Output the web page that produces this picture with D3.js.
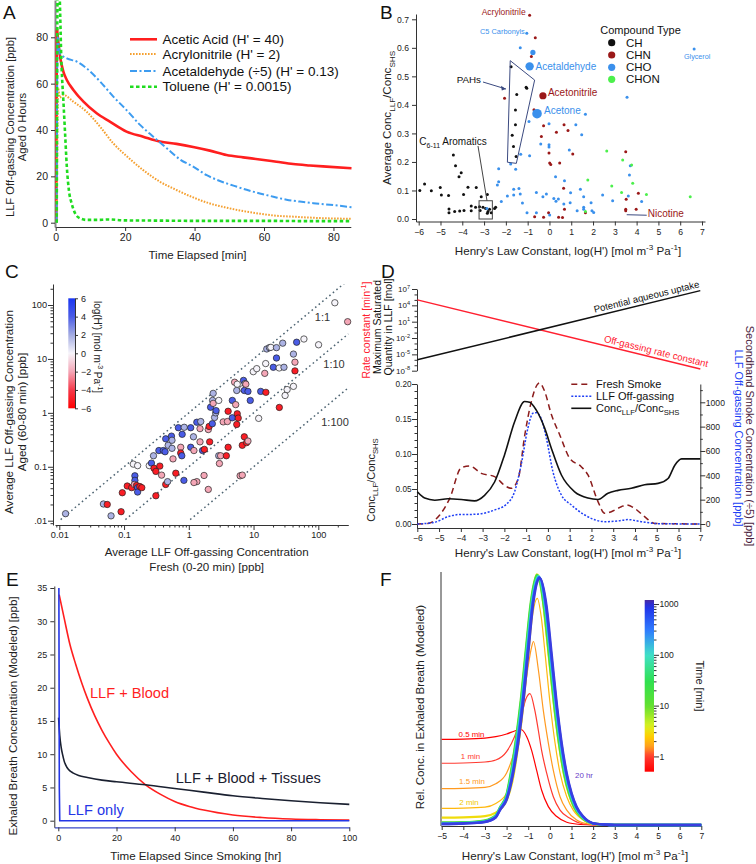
<!DOCTYPE html>
<html>
<head>
<meta charset="utf-8">
<script src="https://cdn.jsdelivr.net/npm/d3@7/dist/d3.min.js"></script>
<style>
  html,body{margin:0;padding:0;background:#fff;}
  svg{display:block;font-family:"Liberation Sans",Arial,Helvetica,sans-serif;}
</style>
</head>
<body>
<svg id="fig" width="756" height="864"></svg>
<script>
// ======================= DATA =======================
// ---- Panel A: LLF off-gassing (time in min, concentration in ppb)
const aAceticT = [0.2,0.35,0.5,1.25,2.2,3.2,5.1,8,11.8,15.6,20.4,25.2,30,34.8,39.6,44.4,49.2,54,58.8,63.6,68.4,73.2,78,85.2];
const aAcetic  = [0,84,81.7,71.7,65.2,61.6,57.3,52.2,47.2,43.6,39.3,37.1,35.0,34.0,32.7,31.1,29.2,28.2,27.3,26.3,25.3,24.7,24.2,23.5];
const aAcrylT  = [0.3,0.7,1.2,2.2,5.1,8.9,12.8,16.6,20.4,25.2,30,34.8,39.6,44.4,49.2,54,58.8,63.6,68.4,73.2,78,85.2];
const aAcryl   = [0,58,54,55.1,52.2,47.9,41.4,34.2,28.8,22.7,17.7,14.1,10.9,8.3,6.5,5.0,3.9,3.0,2.6,2.2,1.9,1.7];
const aAcetalT = [0.25,0.55,1.25,3.2,6.1,8.9,12.8,16.6,20.4,24.3,28.1,32,35.8,39.6,43.5,47.3,51.2,55,58.8,62.7,66.5,70.3,74.2,80,85.2];
const aAcetal  = [0,80,73,70.9,69.5,66.6,60.9,54.4,48.6,42.2,37.1,32.1,27.3,24.2,20.5,18,16,14.2,12.6,11.2,9.9,9.1,8.4,7.6,6.7];
const aTolT    = [0.3,0.6,1.0,1.7,2.2,2.7,3.2,3.8,4.6,5.6,7,8.9,12,15,20,30,40,50,60,70,85];
const aTol     = [0,115,105,67,53,38.6,24.2,14,8.3,4,1.9,1.2,1.2,1.4,1.0,0.9,0.8,0.8,0.8,0.7,0.7];
const aNames   = ["Acetic Acid (H' = 40)","Acrylonitrile (H' = 2)","Acetaldehyde (÷5) (H' = 0.13)","Toluene (H' = 0.0015)"];
const aXTicks  = [0,20,40,60,80];
const aYTicks  = [0,20,40,60,80];

// ---- Panel B: log(H') vs Average ConcLLF/ConcSHS
const bCH = [[-5.95,0.100],[-5.73,0.123],[-5.42,0.099],[-5.01,0.110],[-4.96,0.084],[-4.63,0.082],[-4.41,0.224],[-4.31,0.187],
  [-4.15,0.148],[-4.05,0.162],[-3.94,0.086],[-3.74,0.111],[-3.36,0.110],[-3.13,0.078],[-2.85,0.086],[-4.61,0.035],[-4.61,0.022],
  [-4.35,0.026],[-4.12,0.028],[-3.92,0.030],[-3.59,0.029],[-3.59,0.046],[-3.39,0.041],[-3.21,0.043],[-3.05,0.041],[-2.93,0.037],
  [-2.82,0.026],[-2.75,0.034],[-2.67,0.022],[-2.52,0.037],[-2.47,0.041],[-2.85,0.020],[-3.18,0.030],
  [-1.76,0.534],[-1.07,0.462],[-1.04,0.458],[-1.50,0.436],[-1.56,0.382],[-1.56,0.330],[-1.71,0.294],[-1.65,0.254],[-1.53,0.219]];
const bCHN = [[-0.91,0.714],[-0.65,0.635],[-0.83,0.570],[-2.06,0.423],[-0.71,0.383],[-0.27,0.327],[-0.37,0.289],[0.32,0.304],
  [-0.02,0.231],[0.01,0.196],[0.06,0.191],[0.47,0.196],[0.67,0.330],[0.85,0.310],[1.07,0.228],[0.65,0.108],[0.69,0.034],
  [-0.27,0.006],[-0.68,0.008],[-0.04,0.022],[0.42,0.006],[0.6,0.005],[1.65,0.022],[3.5,0.236],[3.52,0.069],[3.5,0.034],
  [3.5,0.029],[3.98,0.034],[4.08,0.090]];
const bCHO = [[-1.04,0.651],[-1.34,0.600],[-0.94,0.342],[-0.02,0.334],[-0.40,0.263],[-0.02,0.260],[-0.02,0.252],[-1.32,0.227],
  [-0.91,0.222],[-1.78,0.193],[-1.55,0.174],[-2.33,0.176],[-2.33,0.131],[-2.39,0.119],[-1.64,0.104],[-1.40,0.107],[-1.64,0.084],
  [-1.34,0.088],[-1.93,0.081],[-1.24,0.056],[-2.21,0.061],[-1.03,0.022],[-0.60,0.093],[-0.30,0.078],[-0.14,0.088],[-2.87,0.037],
  [0.01,0.014],[0.28,0.148],[0.69,0.134],[1.42,0.104],[0.97,0.092],[2.44,0.084],[1.57,0.078],[0.41,0.070],[0.66,0.053],
  [0.95,0.057],[1.91,0.057],[2.90,0.064],[4.23,0.061],[3.62,0.081],[1.27,0.029],[1.57,0.041],[1.57,0.034],[1.95,0.029],
  [2.03,0.023],[0.91,0.242],[1.21,0.330],[1.48,0.295],[1.65,0.367],[3.56,0.427],[3.67,0.154],[3.71,0.187],[6.64,0.596],
  [0.2,0.072],[-0.6,0.022],[0.3,0.062]];
const bCHON = [[2.63,0.238],[3.36,0.207],[3.77,0.189],[3.82,0.125],[1.76,0.137],[2.86,0.116],[3.31,0.093],[4.45,0.086],[6.46,0.078],[1.65,0.026]];
const bMedium = [[-0.76,0.584,"CHO"]];
const bBig = [["Acetaldehyde","CHO",-0.91,0.535],["Acetone","CHO",-0.57,0.369],["Acetonitrile","CHN",-0.30,0.432]];
const bSmallLabels = [["Acrylonitrile","CHN",-0.91,0.714],["C5 Carbonyls","CHO",-1.04,0.651],["Glycerol","CHO",6.64,0.596],["Nicotine","CHN",3.5,0.029]];
const bTypes = ["CH","CHN","CHO","CHON"];
const bXTicks = d3.range(-6,8,1);
const bYTicks = [0,0.1,0.2,0.3,0.4,0.5,0.6,0.7];
const bPAHBox = [[-1.80,0.555],[-0.68,0.487],[-1.52,0.195],[-1.93,0.199]];

// ---- Panel C: fresh (0-20 min) vs aged (60-80 min) concentration [ppb], log(H')
const cPoints = [
[0.0125,0.0135,1.8],[0.048,0.0204,1.8],[0.055,0.020,-5],[0.063,0.0123,1.8],[0.090,0.0147,-5],[0.094,0.033,-5],[0.112,0.044,-5],
[0.131,0.041,-5],[0.139,0.112,0],[0.162,0.105,0],[0.147,0.068,4],[0.147,0.056,4],[0.144,0.047,-2],[0.156,0.045,-5],[0.162,0.041,4],
[0.162,0.034,4],[0.175,0.043,-5],[0.188,0.041,-5],[0.245,0.105,0],[0.265,0.117,4],[0.285,0.16,1.8],[0.29,0.094,-5],[0.31,0.029,-5],
[0.31,0.082,-5],[0.345,0.20,4],[0.357,0.103,-5],[0.38,0.07,-2],[0.404,0.20,4],[0.43,0.19,4],[0.44,0.33,4],[0.44,0.047,-5],
[0.47,0.053,1.8],[0.48,0.25,1.8],[0.55,0.22,1.8],[0.54,0.37,4],[0.55,0.31,1.8],[0.57,0.14,-2],[0.63,0.076,-5],[0.69,0.53,4],
[0.75,0.23,-2],[0.75,0.18,-5],[0.78,0.16,4],[0.79,0.40,4],[0.85,0.54,1.8],[0.84,0.056,4],[1.07,0.53,4],[1.07,0.23,4],[1.18,0.36,1.8],
[1.2,0.20,-2],[1.33,0.67,4],[1.33,0.053,-2],[1.2,0.051,-2],[1.49,0.51,-2],[1.53,0.69,1.8],[1.49,0.29,-2],[1.63,0.20,4],[1.74,0.21,-5],
[1.72,0.069,-2],[2.0,0.038,-2],[2.0,0.49,-2],[2.06,0.56,-5],[2.1,0.29,-5],[2.17,1.27,4],[2.33,1.7,1.8],[2.38,2.3,1.8],[2.38,1.5,-2],
[2.31,0.63,4],[2.5,0.82,1.8],[2.6,1.0,1.8],[2.64,1.1,4],[2.9,1.7,0],[2.9,0.16,1.8],[2.97,0.115,-2],[3.1,0.16,-2],[3.4,0.68,-2],
[3.8,0.16,-5],[3.95,0.69,-2],[4.05,0.23,-5],[4.05,1.07,-5],[4.7,0.81,4],[4.7,1.7,4],[5.1,3.7,-2],[5.3,1.42,-2],[5.5,0.61,-5],
[5.5,2.6,1.8],[5.6,3.4,0],[5.6,0.96,-5],[5.8,0.8,-5],[6.2,0.068,-2],[6.7,0.07,-2],[6.7,0.25,-5],[6.8,2.8,0],[7.0,4.0,4],[7.2,2.6,4],
[7.4,3.5,1.8],[7.6,3.4,-2],[7.2,0.36,-5],[7.8,0.28,-5],[8.2,0.30,-2],[8.2,2.5,4],[8.9,1.7,4],[9.9,5.8,0],[11.2,6.6,0],[12.0,0.79,0],
[12.9,2.5,4],[14.9,5.4,-2],[15.5,2.4,-5],[15.4,8.2,0],[16.0,15.3,1.8],[17.6,16.2,1.8],[18.5,16.4,0],[20.2,7.0,4],[25,1.26,-5],
[22.6,10.4,4],[22.6,16.2,1.8],[24.9,6.8,0],[28.2,19.6,1.8],[29.5,7.0,1.8],[30.7,2.1,0],[33,2.7,0],[41.3,3.1,0],[41.3,12.3,1.8],
[43.6,6.0,-5],[43.6,8.7,-2],[46.3,20.4,4],[60,23.4,0],[101,18.3,0],[180,110,0],[284,49,-2]];
const cRatios = [[1,"1:1"],[0.1,"1:10"],[0.01,"1:100"]];
const cXTickVals = [0.01,0.1,1,10,100];
const cXTickLabels = ["0.01","0.1","1","10","100"];
const cYTickLabels = [".01","0.1","1","10","100"];
const cBarTicks = [6,4,2,0,-2,-4,-6];

// ---- Panel D
const dUpX = [-6,7];
const dRate = [1e5,2e-8];          // off-gassing rate constant [min^-1]
const dUptake = [1e-6,5e6];        // maximum saturated quantity in LLF [mol]
const dUpTickExp = [7,4,1,-2,-5,-8];
const dFreshX = [-6,-5.51,-4.97,-4.51,-3.98,-3.60,-3.06,-2.45,-1.91,-1.68,-1.36,-1.06,-0.76,-0.49,-0.38,-0.15,0.16,0.54,1.0,1.53,1.84,2.30,2.61,2.91,3.37,3.60,3.98,4.44,4.90,7.0];
const dFresh  = [0,5,74,211,463,477,416,389,307,293,375,734,1008,1145,1159,1090,899,734,540,471,403,184,88,101,142,156,129,60,5,0];
const dLLFX   = [-6,-5.2,-4.59,-3.98,-3.52,-3.06,-2.45,-1.91,-1.53,-1.23,-0.92,-0.69,-0.54,-0.31,-0.07,0.23,0.62,1.08,1.69,2.61,3.22,3.68,4.29,5.06,7];
const dLLF    = [0,14,60,79,79,85,115,162,266,485,787,910,915,868,704,430,238,156,74,19,25,36,19,3,0];
const dRatioX = [-6,-5.66,-5.2,-4.59,-3.98,-3.37,-2.91,-2.45,-1.99,-1.53,-1.07,-0.84,-0.54,-0.15,0.16,0.62,1.23,1.84,2.3,2.76,3.22,3.83,4.44,5.06,5.52,5.83,6.14,7];
const dRatio  = [0.046,0.037,0.034,0.036,0.035,0.033,0.041,0.060,0.099,0.146,0.175,0.174,0.163,0.137,0.108,0.070,0.046,0.037,0.035,0.044,0.048,0.051,0.056,0.058,0.065,0.084,0.093,0.093];
const dLeftTicks = [0,0.05,0.10,0.15,0.20];
const dRightTicks = [0,200,400,600,800,1000];

// ---- Panel E: exhaled breath (hr, ppb)
const eBloodT = [0.3,2,4,6,8,10,12.5,15,17.5,20,25,30,35,40,45,50,60,70,80,90,100];
const eBlood  = [34,30.5,26.5,23.5,20.8,18.4,15.8,13.6,11.7,10.0,7.4,5.4,4.0,2.9,2.15,1.6,0.86,0.48,0.26,0.15,0.08];
const eTisT   = [0.1,0.5,1,1.5,2,3,4,5,7,10,15,20,30,40,50,60,70,80,90,100];
const eTis    = [15.5,12.8,11,9.9,9.0,8.0,7.5,7.2,6.8,6.5,6.1,5.85,5.4,4.85,4.3,3.75,3.35,3.0,2.7,2.45];
const eLLFT   = [0.2,0.35,0.5,100];
const eLLF    = [35,5,0,0];
const eXTicks = [0,20,40,60,80,100];
const eYTicks = [0,5,10,15,20,25,30,35];

// ---- Panel F: relative exhaled concentration vs log(H') for several times [min]
const f05  = [[-5,0.345],[-4,0.346],[-3,0.35],[-2.5,0.356],[-2,0.367],[-1.6,0.38],[-1.35,0.386],[-1.07,0.356],[-0.84,0.30],[-0.61,0.22],[-0.38,0.14],[-0.07,0.074],[0.32,0.034],[0.78,0.011],[1.4,0.002],[2,0],[7,0]];
const f1   = [[-5,0.249],[-4,0.25],[-3,0.254],[-2.5,0.262],[-2,0.296],[-1.63,0.357],[-1.32,0.44],[-1.1,0.51],[-0.92,0.53],[-0.69,0.46],[-0.53,0.38],[-0.38,0.30],[-0.15,0.21],[0.16,0.114],[0.47,0.06],[0.93,0.027],[1.55,0.004],[2.2,0],[7,0]];
const f15  = [[-5,0.147],[-4,0.148],[-3,0.152],[-2.5,0.166],[-2,0.21],[-1.63,0.303],[-1.32,0.437],[-1.02,0.63],[-0.85,0.715],[-0.76,0.74],[-0.53,0.625],[-0.30,0.46],[-0.07,0.33],[0.16,0.22],[0.47,0.114],[0.78,0.06],[1.24,0.02],[1.8,0.004],[2.5,0],[7,0]];
const f2   = [[-5,0.067],[-4,0.068],[-3,0.072],[-2.5,0.087],[-2,0.128],[-1.63,0.236],[-1.32,0.397],[-1.02,0.65],[-0.79,0.85],[-0.58,0.914],[-0.4,0.84],[-0.22,0.69],[0.01,0.49],[0.24,0.33],[0.47,0.21],[0.78,0.114],[1.08,0.06],[1.55,0.02],[2,0.006],[3,0],[7,0]];
const f3   = [[-5,0.03],[-4,0.031],[-3,0.036],[-2.5,0.05],[-2,0.1],[-1.75,0.17],[-1.5,0.3],[-1.25,0.48],[-1,0.72],[-0.8,0.91],[-0.6,1.01],[-0.4,0.96],[-0.2,0.81],[0,0.64],[0.25,0.44],[0.5,0.28],[0.75,0.165],[1,0.095],[1.25,0.05],[1.5,0.026],[2,0.006],[3,0.001],[7,0]];
const f10  = [[-5,0.01],[-4,0.011],[-3,0.019],[-2.5,0.04],[-2.3,0.072],[-2,0.125],[-1.8,0.215],[-1.58,0.34],[-1.35,0.5],[-1.12,0.7],[-0.88,0.9],[-0.6,1.008],[-0.28,0.88],[-0.05,0.69],[0.19,0.49],[0.42,0.33],[0.65,0.21],[0.88,0.128],[1.11,0.074],[1.42,0.034],[2,0.006],[2.5,0.002],[3,0],[7,0]];
const f30  = [[-5,0.008],[-4,0.009],[-3,0.017],[-2.5,0.038],[-2.3,0.07],[-2,0.12],[-1.78,0.215],[-1.56,0.34],[-1.33,0.5],[-1.1,0.7],[-0.86,0.9],[-0.57,1.006],[-0.25,0.88],[-0.02,0.69],[0.22,0.49],[0.45,0.33],[0.68,0.21],[0.91,0.128],[1.14,0.074],[1.45,0.034],[2,0.006],[2.5,0.002],[3,0],[7,0]];
const f100 = [[-5,0.006],[-4,0.008],[-3,0.015],[-2.5,0.036],[-2.3,0.068],[-2,0.115],[-1.75,0.215],[-1.53,0.34],[-1.3,0.5],[-1.07,0.7],[-0.83,0.9],[-0.53,1.003],[-0.22,0.88],[0.01,0.69],[0.25,0.49],[0.48,0.33],[0.71,0.21],[0.94,0.128],[1.17,0.074],[1.48,0.034],[2,0.006],[2.5,0.002],[3,0],[7,0]];
const f300 = [[-5,0.005],[-4,0.007],[-3,0.014],[-2.5,0.034],[-2.3,0.065],[-2,0.11],[-1.72,0.215],[-1.5,0.34],[-1.27,0.5],[-1.04,0.7],[-0.8,0.9],[-0.5,1.0],[-0.19,0.88],[0.04,0.69],[0.28,0.49],[0.51,0.33],[0.74,0.21],[0.97,0.128],[1.2,0.074],[1.51,0.034],[2,0.007],[2.5,0.002],[3,0],[7,0]];
const f600 = [[-5,0.004],[-4,0.006],[-3,0.013],[-2.5,0.032],[-2.3,0.062],[-2,0.105],[-1.7,0.215],[-1.47,0.34],[-1.25,0.5],[-1.02,0.7],[-0.78,0.9],[-0.48,0.998],[-0.17,0.88],[0.06,0.69],[0.3,0.49],[0.53,0.33],[0.76,0.21],[0.99,0.128],[1.22,0.074],[1.53,0.034],[2,0.007],[2.5,0.002],[3,0],[7,0]];
const f1200= [[-5,0.004],[-4,0.006],[-3,0.012],[-2.5,0.03],[-2.3,0.06],[-2,0.1],[-1.69,0.21],[-1.46,0.33],[-1.23,0.49],[-1,0.69],[-0.765,0.894],[-0.455,0.995],[-0.146,0.88],[0.085,0.69],[0.32,0.49],[0.55,0.33],[0.78,0.21],[1.01,0.128],[1.24,0.074],[1.55,0.034],[2,0.007],[2.5,0.002],[3,0],[7,0]];
const fTimes = [0.5,1,1.5,2,3,10,30,100,300,600,1200];
const fLabels = [["0.5 min",0.5],["1 min",1],["1.5 min",1.5],["2 min",2],["20 hr",1200]];
const fXTicks = d3.range(-5,8,1);
const fBarTicks = [1,10,100,1000];

// ======================= DRAWING =======================
const svg = d3.select('#fig');
svg.append('rect').attr('width',756).attr('height',864).attr('fill','#fff');
const defs = svg.append('defs');
const AX = '#333';

function styleAxis(g, fs){
  g.attr('font-family',null).attr('font-size',null);
  g.select('.domain').attr('stroke',AX).attr('stroke-width',1);
  g.selectAll('.tick line').attr('stroke',AX);
  g.selectAll('.tick text').attr('fill','#222').style('font-size',fs+'px');
  return g;
}
// rich text: parts = [[str, kind, color]] kind: '', 'sub', 'sup'
function rich(g, x, y, parts, o={}){
  const size = o.size||11.5;
  const t = g.append('text')
    .attr('transform',`translate(${x},${y}) rotate(${o.rot||0})`)
    .attr('x',0).attr('y',size*0.35)
    .attr('text-anchor',o.anchor||'middle')
    .style('font-size',size+'px').attr('fill',o.color||'#222');
  let shift = 0;
  parts.forEach(p=>{
    const arr = Array.isArray(p)?p:[p,''];
    const s=arr[0], k=arr[1]||'', c=arr[2];
    const target = k==='sub'? size*0.3 : k==='sup'? -size*0.4 : 0;
    const ts = t.append('tspan').text(s).attr('dy', target-shift).style('font-size',(k? size*0.7:size)+'px');
    if(c) ts.attr('fill',c);
    shift = target;
  });
  return t;
}
function letter(x,y,s){ svg.append('text').attr('x',x).attr('y',y).style('font-size','19px').attr('fill','#111').text(s); }
const henryParts = ["Henry's Law Constant, log(H') [mol m",["-3","sup"]," Pa",["-1","sup"],"]"];

// ---------------- Panel A ----------------
(function(){
  const g = svg.append('g');
  const x = d3.scaleLinear().domain([0,85]).range([55.7,350.8]);
  const y = d3.scaleLinear().domain([0,80]).range([222.7,37.3]);
  defs.append('clipPath').attr('id','clipA').append('rect').attr('x',55).attr('y',0).attr('width',297).attr('height',227);
  const xa = x.copy().domain([x.invert(55),85]).range([55,350.8]);
  styleAxis(g.append('g').attr('transform','translate(0,227)')
    .call(d3.axisBottom(xa).tickValues(aXTicks).tickSize(4).tickSizeOuter(0)), 10.5);
  const ya = y.copy().domain([y.invert(227),y.invert(0)]).range([227,0]);
  const gy = styleAxis(g.append('g').attr('transform','translate(55,0)')
    .call(d3.axisLeft(ya).tickValues(aYTicks).tickSize(4).tickSizeOuter(0)), 10.5);
  gy.select('.domain').attr('stroke','#888').attr('stroke-width',2);
  const series = [
    {t:aAceticT, v:aAcetic, color:'#ff1f1f', w:2.6, dash:null},
    {t:aAcrylT,  v:aAcryl,  color:'#f5a030', w:2.0, dash:'1.6,1.4'},
    {t:aAcetalT, v:aAcetal, color:'#3d9cf0', w:2.0, dash:'7,2.5,2,2.5'},
    {t:aTolT,    v:aTol,    color:'#1fdc1f', w:2.6, dash:'3.5,2.5'}
  ];
  const line = d3.line().x(d=>x(d[0])).y(d=>y(d[1])).curve(d3.curveMonotoneX);
  const gl = g.append('g').attr('clip-path','url(#clipA)');
  series.forEach(s=>{
    gl.append('path').attr('d',line(s.t.map((t,i)=>[t,s.v[i]]))).attr('fill','none')
      .attr('stroke',s.color).attr('stroke-width',s.w).attr('stroke-dasharray',s.dash);
  });
  const ly = [39.3,54,71,86.7];
  series.forEach((s,i)=>{
    g.append('line').attr('x1',130).attr('x2',157).attr('y1',ly[i]).attr('y2',ly[i])
      .attr('stroke',s.color).attr('stroke-width',s.w).attr('stroke-dasharray',s.dash);
    rich(g,162.5,ly[i],[aNames[i]],{anchor:'start',size:13.5,color:'#111'});
  });
  rich(g,197.5,255,["Time Elapsed [min]"],{size:11.5});
  rich(g,10,127,["LLF Off-gassing Concentration [ppb]"],{rot:-90,size:11.2});
  rich(g,22,127,["Aged 0 Hours"],{rot:-90,size:11.2});
  letter(3,19,'A');
})();

// ---------------- Panel B ----------------
(function(){
  const g = svg.append('g');
  const x = d3.scaleLinear().domain([-6,7]).range([418.7,702]);
  const y = d3.scaleLinear().domain([0,0.7]).range([219,19.3]);
  const xa = x.copy().domain([x.invert(416),x.invert(705)]).range([416,705]);
  styleAxis(g.append('g').attr('transform','translate(0,221.5)')
    .call(d3.axisBottom(xa).tickValues(bXTicks).tickSize(4).tickSizeOuter(0)), 8.6);
  const ya = y.copy().domain([y.invert(221.5),y.invert(14)]).range([221.5,14]);
  styleAxis(g.append('g').attr('transform','translate(416,0)')
    .call(d3.axisLeft(ya).tickValues(bYTicks).tickFormat(d3.format('.1f')).tickSize(4).tickSizeOuter(0)), 8.6);
  const col = {CH:'#111111',CHN:'#9a1818',CHO:'#3a90ec',CHON:'#4cf04c'};
  const sets = [["CH",bCH],["CHN",bCHN],["CHO",bCHO],["CHON",bCHON]];
  sets.forEach(([t,arr])=>{
    g.selectAll(null).data(arr).enter().append('circle')
      .attr('cx',d=>x(d[0])).attr('cy',d=>y(d[1])).attr('r',1.5).attr('fill',col[t]);
  });
  bMedium.forEach(d=>g.append('circle').attr('cx',x(d[0])).attr('cy',y(d[1])).attr('r',2.6).attr('fill',col[d[2]]));
  const bigR = {Acetaldehyde:4.2, Acetone:4.8, Acetonitrile:3.6};
  bBig.forEach(([n,t,vx,vy])=>{
    g.append('circle').attr('cx',x(vx)).attr('cy',y(vy)).attr('r',bigR[n]).attr('fill',col[t]);
    const lab = {Acetaldehyde:[6,0.5],Acetone:[7,-3],Acetonitrile:[5,-3]}[n];
    rich(g,x(vx)+lab[0],y(vy)+lab[1],[n],{anchor:'start',size:10,color:t==='CHO'?'#3a90ec':'#9a1818'});
  });
  bSmallLabels.forEach(([n,t,vx,vy])=>{
    const c = t==='CHO'?'#3a90ec':'#9a1818';
    if(n==='Acrylonitrile') rich(g,x(vx)-4,y(vy)-3,[n],{anchor:'end',size:8.5,color:c});
    if(n==='C5 Carbonyls') rich(g,x(vx)-2,y(vy)-2,[n],{anchor:'end',size:7.4,color:c});
    if(n==='Glycerol') rich(g,x(vx)+3,y(vy)+7,[n],{anchor:'middle',size:7.2,color:c});
    if(n==='Nicotine'){
      g.append('line').attr('x1',x(vx)+1).attr('y1',y(vy)+4).attr('x2',x(vx)+21).attr('y2',y(vy)+4.5).attr('stroke','#3b4a80').attr('stroke-width',1);
      rich(g,x(vx)+22,y(vy)+3,[n],{anchor:'start',size:10,color:c});
    }
  });
  g.append('polygon').attr('points',bPAHBox.map(d=>[x(d[0]),y(d[1])].join(',')).join(' '))
    .attr('fill','none').attr('stroke','#3b4a80').attr('stroke-width',1);
  rich(g,481,80,["PAHs"],{anchor:'end',size:9.8,color:'#111'});
  const ax1=[483,82], ax2=[506,89];
  g.append('line').attr('x1',ax1[0]).attr('y1',ax1[1]).attr('x2',ax2[0]).attr('y2',ax2[1]).attr('stroke','#3b4a80');
  g.append('path').attr('d',`M${ax2[0]},${ax2[1]} l-5,-3.2 l0.8,4.6 z`).attr('fill','#3b4a80');
  g.append('rect').attr('x',x(-3.23)).attr('y',y(0.064)).attr('width',x(-2.62)-x(-3.23)).attr('height',y(0)-y(0.064))
    .attr('fill','none').attr('stroke','#444').attr('stroke-width',1);
  g.append('line').attr('x1',478).attr('y1',146).attr('x2',487).attr('y2',y(0.064)).attr('stroke','#444');
  rich(g,453,141,["C",["6-11","sub"]," Aromatics"],{size:10,color:'#111'});
  rich(g,640.5,30,["Compound Type"],{size:11,color:'#111'});
  const ly=[42.7,55,67.3,79.3];
  bTypes.forEach((t,i)=>{
    g.append('circle').attr('cx',611.7).attr('cy',ly[i]).attr('r',3.6).attr('fill',col[t]);
    rich(g,626,ly[i],[t],{anchor:'start',size:11.5,color:'#111'});
  });
  rich(g,568,251,henryParts,{size:11.6});
  rich(g,387,118,["Average Conc",["LLF","sub"],"/Conc",["SHS","sub"]],{rot:-90,size:11.6});
  letter(380,19,'B');
})();

// ---------------- Panel C ----------------
(function(){
  const g = svg.append('g');
  const x = d3.scaleLog().domain([0.01,100]).range([59.3,318.3]);
  const y = d3.scaleLog().domain([0.01,100]).range([520.7,305]);
  const xMin = x.invert(55), xMax = x.invert(348.3), yMin = y.invert(525), yMax = y.invert(284);
  const minor = (lo,hi)=>{const a=[];for(let e=-3;e<=3;e++)for(let m=1;m<10;m++){const v=m*Math.pow(10,e);if(v>=lo&&v<=hi)a.push(v);}return a;};
  const isMajor = v=>Math.abs(Math.log10(v)-Math.round(Math.log10(v)))<1e-6;
  const xa = x.copy().domain([xMin,xMax]).range([55,348.3]);
  const gx = styleAxis(g.append('g').attr('transform','translate(0,525)')
    .call(d3.axisBottom(xa).tickValues(minor(xMin,xMax)).tickFormat(v=>{const i=cXTickVals.findIndex(t=>Math.abs(t-v)/t<1e-6);return i>=0?cXTickLabels[i]:'';}).tickSize(3).tickSizeOuter(0)), 9.2);
  gx.selectAll('.tick line').attr('y2',d=>isMajor(d)?5:2.5);
  const ya = y.copy().domain([yMin,yMax]).range([525,284]);
  const gy = styleAxis(g.append('g').attr('transform','translate(53,0)')
    .call(d3.axisLeft(ya).tickValues(minor(yMin,yMax)).tickFormat(v=>{const i=cXTickVals.findIndex(t=>Math.abs(t-v)/t<1e-6);return i>=0?cYTickLabels[i]:'';}).tickSize(3).tickSizeOuter(0)), 9.2);
  gy.selectAll('.tick line').attr('x2',d=>isMajor(d)?-5:-2.5);
  defs.append('clipPath').attr('id','clipC').append('rect').attr('x',55).attr('y',284).attr('width',294).attr('height',240);
  const gl = g.append('g').attr('clip-path','url(#clipC)');
  cRatios.forEach(([r,lab])=>{
    const x0 = Math.max(0.0105, 0.0105/r);
    gl.append('line').attr('x1',x(x0)).attr('y1',y(x0*r)).attr('x2',x(xMax)).attr('y2',y(xMax*r))
      .attr('stroke','#4e6472').attr('stroke-width',1.5).attr('stroke-dasharray','1.6,3');
  });
  rich(g,322.5,317,["1:1"],{size:11,color:'#333'});
  rich(g,334,364,["1:10"],{size:11,color:'#333'});
  rich(g,335,422,["1:100"],{size:11,color:'#333'});
  const cs = d3.scaleLinear().domain([-6,-4,-2,0,2,4,6]).range(['#ff0000','#f53a4a','#f4a6b6','#f6f4fa','#a4ace2','#4a5ce6','#1a36f2']);
  g.selectAll(null).data(cPoints).enter().append('circle')
    .attr('cx',d=>x(d[0])).attr('cy',d=>y(d[1])).attr('r',3.2)
    .attr('fill',d=>cs(d[2])).attr('stroke','#222').attr('stroke-width',0.7);
  const cb = d3.scaleLinear().domain([-6,6]).range([408.3,298.3]);
  const grad = defs.append('linearGradient').attr('id','gradC').attr('x1',0).attr('y1',1).attr('x2',0).attr('y2',0);
  d3.range(0,13).forEach(i=>grad.append('stop').attr('offset',(i/12)).attr('stop-color',cs(-6+i)));
  g.append('rect').attr('x',68.3).attr('y',298.3).attr('width',6.7).attr('height',110).attr('fill','url(#gradC)');
  styleAxis(g.append('g').attr('transform','translate(75,0)')
    .call(d3.axisRight(cb).tickValues(cBarTicks).tickSize(3).tickSizeOuter(0)), 9);
  rich(g,97,347,["log(H') [mol m",["-3","sup"]," Pa",["-1","sup"],"]"],{rot:90,size:10});
  rich(g,206.7,551.7,["Average LLF Off-gassing Concentration"],{size:11.6});
  rich(g,206.7,566.7,["Fresh (0-20 min) [ppb]"],{size:11.6});
  rich(g,8.5,412,["Average LLF Off-gassing Concentration"],{rot:-90,size:11.6});
  rich(g,21.5,412,["Aged (60-80 min) [ppb]"],{rot:-90,size:11.6});
  letter(5,278,'C');
})();

// ---------------- Panel D ----------------
(function(){
  const g = svg.append('g');
  const x = d3.scaleLinear().domain([-6,7]).range([417.3,700.3]);
  const yU = d3.scaleLog().domain([1e-8,1e7]).range([370.7,289]);
  const gu = styleAxis(g.append('g').attr('transform','translate(417,0)')
    .call(d3.axisLeft(yU).tickValues(d3.range(-8,8).map(e=>Math.pow(10,e))).tickFormat('').tickSize(2.5).tickSizeOuter(0)), 8);
  gu.selectAll('.tick line').attr('x2',d=>((Math.round(Math.log10(d))+8)%3===0)?-5:-2.5);
  dUpTickExp.forEach(e=>{
    const t = g.append('text').attr('x',410).attr('y',yU(Math.pow(10,e))+3).attr('text-anchor','end').style('font-size','8px').attr('fill','#222');
    t.append('tspan').text('10');
    t.append('tspan').attr('dy',-3.5).style('font-size','5.6px').text(e);
  });
  const lineU = d3.line().x(d=>x(d[0])).y(d=>yU(d[1]));
  g.append('path').attr('d',lineU(dUpX.map((v,i)=>[v,dRate[i]]))).attr('stroke','#ff2030').attr('stroke-width',1.5).attr('fill','none');
  g.append('path').attr('d',lineU(dUpX.map((v,i)=>[v,dUptake[i]]))).attr('stroke','#111').attr('stroke-width',1.5).attr('fill','none');
  const angB = Math.atan2(yU(dUptake[1])-yU(dUptake[0]), x(7)-x(-6))*180/Math.PI;
  const angR = Math.atan2(yU(dRate[1])-yU(dRate[0]), x(7)-x(-6))*180/Math.PI;
  const lgB = d=>Math.pow(10, Math.log10(dUptake[0])+(d+6)/13*(Math.log10(dUptake[1])-Math.log10(dUptake[0])));
  const lgR = d=>Math.pow(10, Math.log10(dRate[0])+(d+6)/13*(Math.log10(dRate[1])-Math.log10(dRate[0])));
  g.append('text').attr('transform',`translate(${x(4.6)},${yU(lgB(4.6))}) rotate(${angB})`).attr('y',-3.5)
    .attr('text-anchor','middle').style('font-size','9.6px').attr('fill','#111').text('Potential aqueous uptake');
  g.append('text').attr('transform',`translate(${x(4.9)},${yU(lgR(4.9))}) rotate(${angR})`).attr('y',-3.5)
    .attr('text-anchor','middle').style('font-size','9.6px').attr('fill','#ff2030').text('Off-gassing rate constant');
  rich(g,366.5,330,["Rate constant [min",["-1","sup"],"]"],{rot:-90,size:10.5,color:'#ff2030'});
  rich(g,377.5,327,["Maximum Saturated"],{rot:-90,size:10.5,color:'#111'});
  rich(g,388.5,327,["Quantity in LLF [mol]"],{rot:-90,size:10.5,color:'#111'});
  const yL = d3.scaleLinear().domain([0,0.2]).range([524,384]);
  const yR = d3.scaleLinear().domain([0,1000]).range([524,402.3]);
  const xa = x.copy().domain([x.invert(417),x.invert(700.3)]).range([417,700.3]);
  styleAxis(g.append('g').attr('transform','translate(0,528)')
    .call(d3.axisBottom(xa).tickValues(d3.range(-6,8,1)).tickSize(4).tickSizeOuter(0)), 8.6);
  const yLa = yL.copy().domain([yL.invert(528),0.2]).range([528,384]);
  const gl = styleAxis(g.append('g').attr('transform','translate(417,0)')
    .call(d3.axisLeft(yLa).tickValues(d3.range(0,21).map(i=>i*0.01)).tickFormat(v=>{const i=dLeftTicks.findIndex(t=>Math.abs(t-v)<1e-6);return i>=0?d3.format('.2f')(v):'';}).tickSize(2.5).tickSizeOuter(0)), 8.2);
  gl.selectAll('.tick line').attr('x2',d=>dLeftTicks.some(t=>Math.abs(t-d)<1e-6)?-5:-2.5);
  const yRa = yR.copy().domain([yR.invert(528),yR.invert(384)]).range([528,384]);
  const gr = styleAxis(g.append('g').attr('transform','translate(700.3,0)')
    .call(d3.axisRight(yRa).tickValues(d3.range(0,12).map(i=>i*100)).tickFormat(v=>dRightTicks.includes(v)?v:'').tickSize(2.5).tickSizeOuter(0)), 8.6);
  gr.selectAll('.tick line').attr('x2',d=>dRightTicks.includes(d)?5:2.5);
  const lf = d3.line().x(d=>x(d[0])).y(d=>yR(d[1])).curve(d3.curveMonotoneX);
  const lr = d3.line().x(d=>x(d[0])).y(d=>yL(d[1])).curve(d3.curveMonotoneX);
  g.append('path').attr('d',lf(dFreshX.map((v,i)=>[v,dFresh[i]]))).attr('fill','none').attr('stroke','#8b1c1c').attr('stroke-width',1.5).attr('stroke-dasharray','6,4');
  g.append('path').attr('d',lf(dLLFX.map((v,i)=>[v,dLLF[i]]))).attr('fill','none').attr('stroke','#2040f5').attr('stroke-width',1.5).attr('stroke-dasharray','2,1.6');
  g.append('path').attr('d',lr(dRatioX.map((v,i)=>[v,dRatio[i]]))).attr('fill','none').attr('stroke','#111').attr('stroke-width',1.6);
  const ly=[384.3,396.2,408.3];
  g.append('line').attr('x1',571.3).attr('x2',591.3).attr('y1',ly[0]).attr('y2',ly[0]).attr('stroke','#8b1c1c').attr('stroke-width',1.5).attr('stroke-dasharray','6,4');
  g.append('line').attr('x1',571.3).attr('x2',591.3).attr('y1',ly[1]).attr('y2',ly[1]).attr('stroke','#2040f5').attr('stroke-width',1.5).attr('stroke-dasharray','2,1.6');
  g.append('line').attr('x1',571.3).attr('x2',591.3).attr('y1',ly[2]).attr('y2',ly[2]).attr('stroke','#111').attr('stroke-width',1.6);
  rich(g,596,ly[0],["Fresh Smoke"],{anchor:'start',size:11,color:'#111'});
  rich(g,596,ly[1],["LLF Off-gassing"],{anchor:'start',size:11,color:'#111'});
  rich(g,596,ly[2],["Conc",["LLF","sub"],"/Conc",["SHS","sub"]],{anchor:'start',size:11,color:'#111'});
  rich(g,568,553,henryParts,{size:11.6});
  rich(g,371,480,["Conc",["LLF","sub"],"/Conc",["SHS","sub"]],{rot:-90,size:11});
  rich(g,749.5,436,["Secondhand Smoke Concentration (÷5) [ppb]"],{rot:90,size:11,color:'#4a1c3c'});
  rich(g,738.5,438,["LLF Off-gassing Concentration [ppb]"],{rot:90,size:11,color:'#2040f5'});
  letter(381,278,'D');
})();

// ---------------- Panel E ----------------
(function(){
  const g = svg.append('g');
  const x = d3.scaleLinear().domain([0,100]).range([58.3,349.3]);
  const y = d3.scaleLinear().domain([0,35]).range([820.7,588]);
  const xa = x.copy().domain([x.invert(54.3),100]).range([54.3,349.3]);
  const gx = styleAxis(g.append('g').attr('transform','translate(0,827.3)')
    .call(d3.axisBottom(xa).tickValues(eXTicks).tickSize(4).tickSizeOuter(0)), 9);
  gx.select('.domain').attr('stroke','#3848c8').attr('stroke-width',1.3);
  const ya = y.copy().domain([y.invert(827.3),y.invert(586)]).range([827.3,586]);
  styleAxis(g.append('g').attr('transform','translate(54.3,0)')
    .call(d3.axisLeft(ya).tickValues(eYTicks).tickSize(4).tickSizeOuter(0)), 9);
  const l = d3.line().x(d=>x(d[0])).y(d=>y(d[1])).curve(d3.curveMonotoneX);
  g.append('path').attr('d',l(eBloodT.map((t,i)=>[t,eBlood[i]]))).attr('fill','none').attr('stroke','#ff1f1f').attr('stroke-width',1.6);
  g.append('path').attr('d',l(eTisT.map((t,i)=>[t,eTis[i]]))).attr('fill','none').attr('stroke','#1a2030').attr('stroke-width',1.6);
  g.append('path').attr('d',d3.line().x(d=>x(d[0])).y(d=>y(d[1]))(eLLFT.map((t,i)=>[t,eLLF[i]]))).attr('fill','none').attr('stroke','#2436e6').attr('stroke-width',1.6);
  rich(g,90,693.3,["LLF + Blood"],{anchor:'start',size:14.6,color:'#ff1f1f'});
  rich(g,175.7,778.3,["LLF + Blood + Tissues"],{anchor:'start',size:14.6,color:'#1a2030'});
  rich(g,67.7,810,["LLF only"],{anchor:'start',size:14.6,color:'#2436e6'});
  rich(g,195.8,856,["Time Elapsed Since Smoking [hr]"],{size:11.6});
  rich(g,13.3,716,["Exhaled Breath Concentration (Modeled) [ppb]"],{rot:-90,size:11.6});
  letter(6,586,'E');
})();

// ---------------- Panel F ----------------
(function(){
  const g = svg.append('g');
  const x = d3.scaleLinear().domain([-5,7]).range([441.7,701.3]);
  const y = d3.scaleLinear().domain([0,1]).range([825,577]);
  const xa = x.copy().domain([x.invert(441),x.invert(701.3)]).range([441,701.3]);
  styleAxis(g.append('g').attr('transform','translate(0,826)')
    .call(d3.axisBottom(xa).tickValues(fXTicks).tickSize(4).tickSizeOuter(0)), 8.6);
  g.append('line').attr('x1',441).attr('x2',441).attr('y1',572).attr('y2',826).attr('stroke',AX);
  const fColorT = [0.5,1,1.5,2.5,4,10,30,100,300,900,1200];
  const fColorC = ['#ff0000','#ff3a30','#ff9a20','#ffd000','#d8f020','#60e030','#30e050','#40e0c8','#2f7dff','#2030e8','#4a2aa0'];
  const tl = d3.scaleLog().domain([0.5,1200]).range([0,1]);
  const cscale = d3.scaleLinear().domain(fColorT.map(t=>tl(t))).range(fColorC);
  const col = t=>cscale(tl(t));
  const curves = [f05,f1,f15,f2,f3,f10,f30,f100,f300,f600,f1200];
  const lineF = d3.line().x(d=>x(d[0])).y(d=>y(d[1])).curve(d3.curveMonotoneX);
  curves.forEach((c,i)=>{
    const t = fTimes[i];
    g.append('path').attr('d',lineF(c)).attr('fill','none').attr('stroke',t===1200?'#3a3ee0':col(t))
      .attr('stroke-width',t<=2?1.2:2.3);
  });
  const labPos = {"0.5 min":[471.5,734],"1 min":[470.5,756.7],"1.5 min":[472,781],"2 min":[469,802.7],"20 hr":[584,775.7]};
  fLabels.forEach(([s,t])=>{
    rich(g,labPos[s][0],labPos[s][1],[s],{size:7.9,color:t===1200?'#6a3cc8':(t===2?'#f0c800':col(t))});
  });
  const cb = d3.scaleLog().domain([0.5,1200]).range([771.7,600]);
  const grad = defs.append('linearGradient').attr('id','gradF').attr('x1',0).attr('y1',1).attr('x2',0).attr('y2',0);
  d3.range(0,41).forEach(i=>{const f=i/40; grad.append('stop').attr('offset',f).attr('stop-color',cscale(f));});
  g.append('rect').attr('x',644.7).attr('y',600).attr('width',9.3).attr('height',171.7).attr('fill','url(#gradF)');
  const minorT=[];[1,10,100,1000].forEach(d=>{for(let m=1;m<10;m++){const v=m*d;if(v<=1200)minorT.push(v);}});
  const gb = styleAxis(g.append('g').attr('transform','translate(654,0)')
    .call(d3.axisRight(cb).tickValues(minorT).tickFormat(v=>fBarTicks.includes(v)?v:'').tickSize(2.5).tickSizeOuter(0)), 8.6);
  gb.selectAll('.tick line').attr('x2',d=>fBarTicks.includes(d)?5:2.5);
  gb.select('.domain').attr('stroke','none');
  rich(g,700,686,["Time [min]"],{rot:90,size:11});
  rich(g,575,856,henryParts,{size:11.6});
  rich(g,420,707,["Rel. Conc. in Exhaled Breath (Modeled)"],{rot:-90,size:11.6});
  letter(380,586,'F');
})();
</script>
</body>
</html>
